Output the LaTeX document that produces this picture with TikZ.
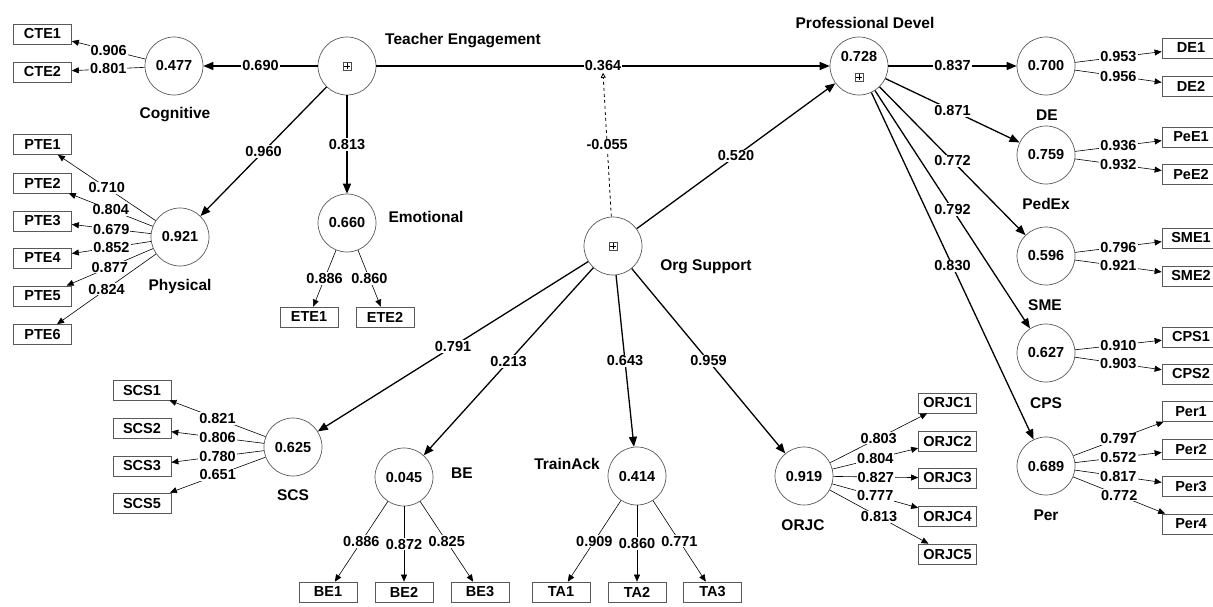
\documentclass[tikz,border=0pt]{standalone}
\usepackage{fontspec}
\setmainfont{Liberation Sans}
\usetikzlibrary{arrows.meta}
\newcommand\fnum{\fontsize{14.5}{16}\selectfont\bfseries}
\newcommand\fname{\fontsize{15.5}{17}\selectfont\bfseries}
\begin{document}
\begin{tikzpicture}[x=1pt,y=-1pt,
 lv/.style={circle,draw=black!65,line width=0.7pt,minimum size=58pt,inner sep=0pt,font=\fnum},
 ind/.style={rectangle,draw=black!65,line width=0.7pt,minimum width=58pt,minimum height=20pt,inner sep=0pt,font=\fnum},
 lvname/.style={font=\fname},
 spath/.style={line width=1.3pt,-{Triangle[length=10pt,width=8pt]}},
 mpath/.style={line width=0.6pt,-{Triangle[length=7pt,width=6pt]}},
 coef/.style={fill=white,inner sep=1pt,font=\fnum},
 plusbox/.pic={\draw[black!70,line width=0.6pt] (-4,-4) rectangle (4,4);
   \draw[line width=0.6pt] (-2.6,0) -- (2.6,0) (0,-2.6) -- (0,2.6);}
]
\fill[white] (0,0) rectangle (1213,606);
\useasboundingbox (0,0) rectangle (1213,606);

% latent variables
\node[lv] (cog) at (174,66) {0.477};
\node[lv] (te) at (347,66) {};
\pic at (347,66) {plusbox};
\node[lv] (emo) at (347,223) {0.660};
\node[lv] (phys) at (180,237) {0.921};
\node[lv] (org) at (613,246) {};
\pic at (613,246) {plusbox};
\node[lv] (pd) at (859,66) {};
\node[font=\fnum] (pdval) at (859,57) {0.728};
\pic at (859,77) {plusbox};
\node[lv] (de) at (1046,66) {0.700};
\node[lv] (pedex) at (1046,155) {0.759};
\node[lv] (sme) at (1046,256) {0.596};
\node[lv] (cps) at (1046,353) {0.627};
\node[lv] (per) at (1046,466) {0.689};
\node[lv] (orjc) at (804,476) {0.919};
\node[lv] (ta) at (637,476) {0.414};
\node[lv] (be) at (404,477) {0.045};
\node[lv] (scs) at (293,447) {0.625};

% names
\node[lvname] (ncog) at (175,115) {Cognitive};
\node[lvname] (nphys) at (180,286) {Physical};
\node[lvname] (nte) at (463,41) {Teacher Engagement};
\node[lvname] (nemo) at (426,217) {Emotional};
\node[lvname] (norg) at (706,267) {Org Support};
\node[lvname] (npd) at (865,23) {Professional Devel};
\node[lvname] (nde) at (1047,115) {DE};
\node[lvname] (npedex) at (1046,204) {PedEx};
\node[lvname] (nsme) at (1045,305) {SME};
\node[lvname] (ncps) at (1046,403) {CPS};
\node[lvname] (nper) at (1046,515) {Per};
\node[lvname] (norjc) at (803,525) {ORJC};
\node[lvname] (nta) at (567,464) {TrainAck};
\node[lvname] (nbe) at (462,473) {BE};
\node[lvname] (nscs) at (293,495) {SCS};

% indicators
\node[ind] (cte1) at (42.5,34) {CTE1};
\node[ind] (cte2) at (42.5,72) {CTE2};
\node[ind] (pte1) at (42.5,144.5) {PTE1};
\node[ind] (pte2) at (42.5,183) {PTE2};
\node[ind] (pte3) at (42.5,221) {PTE3};
\node[ind] (pte4) at (42.5,258) {PTE4};
\node[ind] (pte5) at (42.5,296) {PTE5};
\node[ind] (pte6) at (42.5,334.5) {PTE6};
\node[ind] (ete1) at (309,317) {ETE1};
\node[ind] (ete2) at (385,317) {ETE2};
\node[ind] (de1) at (1191,48) {DE1};
\node[ind] (de2) at (1191,86.5) {DE2};
\node[ind] (pee1) at (1191,137) {PeE1};
\node[ind] (pee2) at (1191,174.5) {PeE2};
\node[ind] (sme1) at (1191,238) {SME1};
\node[ind] (sme2) at (1191,276) {SME2};
\node[ind] (cps1) at (1191,337) {CPS1};
\node[ind] (cps2) at (1191,374) {CPS2};
\node[ind] (per1) at (1191,411.5) {Per1};
\node[ind] (per2) at (1191,449) {Per2};
\node[ind] (per3) at (1191,486.5) {Per3};
\node[ind] (per4) at (1191,524) {Per4};
\node[ind] (orjc1) at (947.5,403) {ORJC1};
\node[ind] (orjc2) at (947.5,441) {ORJC2};
\node[ind] (orjc3) at (947.5,478) {ORJC3};
\node[ind] (orjc4) at (947.5,516) {ORJC4};
\node[ind] (orjc5) at (947.5,554) {ORJC5};
\node[ind] (scs1) at (142,390) {SCS1};
\node[ind] (scs2) at (142,428) {SCS2};
\node[ind] (scs3) at (142,466) {SCS3};
\node[ind] (scs5) at (142,503) {SCS5};
\node[ind] (be1) at (328,592) {BE1};
\node[ind] (be2) at (404,592) {BE2};
\node[ind] (be3) at (480,592) {BE3};
\node[ind] (ta1) at (561,592) {TA1};
\node[ind] (ta2) at (637,592) {TA2};
\node[ind] (ta3) at (712.5,592) {TA3};

% structural paths
\draw[spath] (te) -- node[coef] {0.690} (cog);
\draw[spath] (te) -- node[coef] {0.960} (phys);
\draw[spath] (te) -- node[coef] {0.813} (emo);
\draw[spath] (te) -- node[coef] (c364) {0.364} (pd);
\draw[dashed,line width=0.8pt,-{Triangle[open,length=5pt,width=5pt]}] (org) -- node[coef] {-0.055} (c364.south);
\draw[spath] (org) -- node[coef] {0.520} (pd);
\draw[spath] (org) -- node[coef] {0.791} (scs);
\draw[spath] (org) -- node[coef] {0.213} (be);
\draw[spath] (org) -- node[coef] {0.643} (ta);
\draw[spath] (org) -- node[coef] {0.959} (orjc);
\draw[spath] (pd) -- node[coef] {0.837} (de);
\draw[spath] (pd) -- node[coef] {0.871} (pedex);
\draw[spath] (pd) -- node[coef] {0.772} (sme);
\draw[spath] (pd) -- node[coef] {0.792} (cps);
\draw[spath] (pd) -- node[coef] {0.830} (per);

% measurement paths
\draw[mpath] (cog) -- node[coef] {0.906} (cte1);
\draw[mpath] (cog) -- node[coef] {0.801} (cte2);
\draw[mpath] (phys) -- node[coef] {0.710} (pte1);
\draw[mpath] (phys) -- node[coef] {0.804} (pte2);
\draw[mpath] (phys) -- node[coef] {0.679} (pte3);
\draw[mpath] (phys) -- node[coef] {0.852} (pte4);
\draw[mpath] (phys) -- node[coef] {0.877} (pte5);
\draw[mpath] (phys) -- node[coef] {0.824} (pte6);
\draw[mpath] (emo) -- node[coef] {0.886} (ete1);
\draw[mpath] (emo) -- node[coef] {0.860} (ete2);
\draw[mpath] (de) -- node[coef] {0.953} (de1);
\draw[mpath] (de) -- node[coef] {0.956} (de2);
\draw[mpath] (pedex) -- node[coef] {0.936} (pee1);
\draw[mpath] (pedex) -- node[coef] {0.932} (pee2);
\draw[mpath] (sme) -- node[coef] {0.796} (sme1);
\draw[mpath] (sme) -- node[coef] {0.921} (sme2);
\draw[mpath] (cps) -- node[coef] {0.910} (cps1);
\draw[mpath] (cps) -- node[coef] {0.903} (cps2);
\draw[mpath] (per) -- node[coef] {0.797} (per1);
\draw[mpath] (per) -- node[coef] {0.572} (per2);
\draw[mpath] (per) -- node[coef] {0.817} (per3);
\draw[mpath] (per) -- node[coef] {0.772} (per4);
\draw[mpath] (orjc) -- node[coef] {0.803} (orjc1);
\draw[mpath] (orjc) -- node[coef] {0.804} (orjc2);
\draw[mpath] (orjc) -- node[coef] {0.827} (orjc3);
\draw[mpath] (orjc) -- node[coef] {0.777} (orjc4);
\draw[mpath] (orjc) -- node[coef] {0.813} (orjc5);
\draw[mpath] (scs) -- node[coef] {0.821} (scs1);
\draw[mpath] (scs) -- node[coef] {0.806} (scs2);
\draw[mpath] (scs) -- node[coef] {0.780} (scs3);
\draw[mpath] (scs) -- node[coef] {0.651} (scs5);
\draw[mpath] (be) -- node[coef] {0.886} (be1);
\draw[mpath] (be) -- node[coef] {0.872} (be2);
\draw[mpath] (be) -- node[coef] {0.825} (be3);
\draw[mpath] (ta) -- node[coef] {0.909} (ta1);
\draw[mpath] (ta) -- node[coef] {0.860} (ta2);
\draw[mpath] (ta) -- node[coef] {0.771} (ta3);
\end{tikzpicture}
\end{document}
